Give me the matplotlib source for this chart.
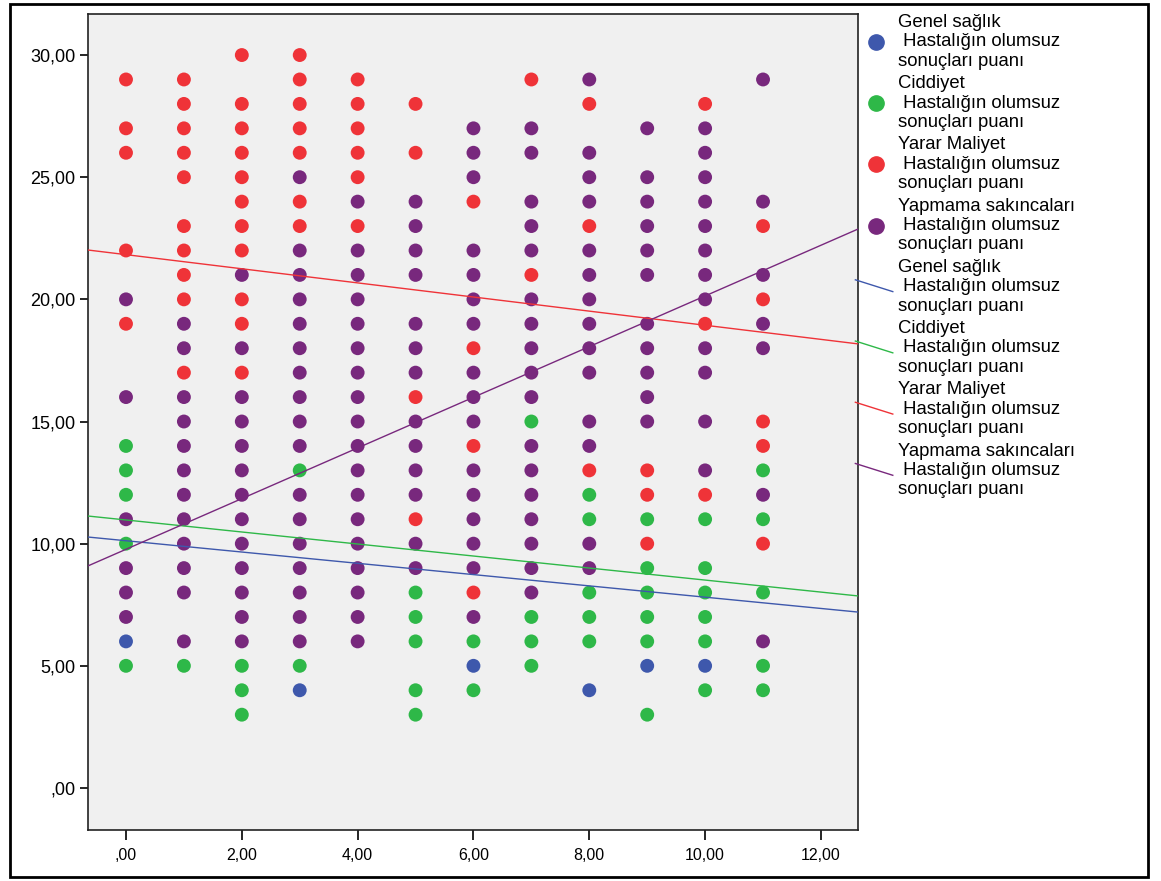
import numpy as np
import matplotlib
matplotlib.use("Agg")
import matplotlib.pyplot as plt
from matplotlib.lines import Line2D
from matplotlib.legend_handler import HandlerBase
from matplotlib.patches import Rectangle
from matplotlib.ticker import FuncFormatter

plt.rcParams['font.family'] = ['Liberation Sans', 'DejaVu Sans']

# visible points, by column (x) -> y values
genel_x = [0, 3, 6, 8, 9, 10]
genel_y = [6, 4, 5, 4, 5, 5]

ciddiyet_pts = {
    0: [14, 13, 12, 10, 5],
    1: [5],
    2: [5, 4, 3],
    3: [13, 5],
    5: [8, 7, 6, 4, 3],
    6: [6, 4],
    7: [15, 7, 6, 5],
    8: [12, 11, 8, 7, 6],
    9: [11, 9, 8, 7, 6, 3],
    10: [11, 9, 8, 7, 6, 4],
    11: [13, 11, 8, 5, 4],
}

yarar_pts = {
    0: [29, 27, 26, 22, 19],
    1: [29, 28, 27, 26, 25, 23, 22, 21, 20, 17],
    2: [30, 28, 27, 26, 25, 24, 23, 22, 20, 19, 17],
    3: [30, 29, 28, 27, 26, 24, 23],
    4: [29, 28, 27, 26, 25, 23],
    5: [28, 26, 16, 11],
    6: [24, 18, 14, 8],
    7: [29, 21],
    8: [28, 23, 13],
    9: [13, 12, 10],
    10: [28, 19, 12],
    11: [23, 20, 15, 14, 10],
}

yapmama_pts = {
    0: [20, 16, 11, 9, 8, 7],
    1: [19, 18, 16, 15, 14, 13, 12, 11, 10, 9, 8, 6],
    2: [21, 18, 16, 15, 14, 13, 12, 11, 10, 9, 8, 7, 6],
    3: [25, 22, 21, 20, 19, 18, 17, 16, 15, 14, 12, 11, 10, 9, 8, 7, 6],
    4: [24, 22, 21, 20, 19, 18, 17, 16, 15, 14, 13, 12, 11, 10, 9, 8, 7, 6],
    5: [24, 23, 22, 21, 19, 18, 17, 15, 14, 13, 12, 10, 9],
    6: [27, 26, 25, 22, 21, 20, 19, 17, 16, 15, 13, 12, 11, 10, 9, 7],
    7: [27, 26, 24, 23, 22, 20, 19, 18, 17, 16, 14, 13, 12, 11, 10, 9, 8],
    8: [29, 26, 25, 24, 22, 21, 20, 19, 18, 17, 15, 14, 10, 9],
    9: [27, 25, 24, 23, 22, 21, 19, 18, 17, 16, 15],
    10: [27, 26, 25, 24, 23, 22, 21, 20, 18, 17, 15, 13],
    11: [29, 24, 21, 19, 18, 12, 6],
}

# fit lines: intercept, slope
fit_intercepts = [10.12, 10.97, 21.83, 9.77]
fit_slopes = [-0.231, -0.246, -0.289, 1.037]

labels = ["Genel sağlık\n Hastalığın olumsuz\nsonuçları puanı",
          "Ciddiyet\n Hastalığın olumsuz\nsonuçları puanı",
          "Yarar Maliyet\n Hastalığın olumsuz\nsonuçları puanı",
          "Yapmama sakıncaları\n Hastalığın olumsuz\nsonuçları puanı"]
colors = ["#3e58ac", "#2eb848", "#ef3338", "#78287d"]


def flatten(d):
    xs, ys = [], []
    for k, v in d.items():
        xs += [k] * len(v)
        ys += v
    return xs, ys


series = [(genel_x, genel_y), flatten(ciddiyet_pts), flatten(yarar_pts), flatten(yapmama_pts)]

fig = plt.figure(figsize=(11.61, 8.81), dpi=100)
ax = fig.add_axes([88 / 1161, 1 - 830 / 881, 770 / 1161, 816 / 881])
ax.set_facecolor("#f0f0f0")

for (xs, ys), c in zip(series, colors):
    ax.scatter(xs, ys, s=100, color=c, edgecolors="none", zorder=2)

for b, m, c in zip(fit_intercepts, fit_slopes, colors):
    ax.axline((0, b), slope=m, color=c, lw=1, zorder=3)

ax.set_xlim(-0.656, 12.64)
ax.set_ylim(-1.72, 31.68)
ax.set_xticks(np.arange(0, 13, 2))
ax.set_yticks(np.arange(0, 31, 5))


def fmt(v, pos):
    s = f"{v:.2f}".replace(".", ",")
    return s[1:] if s.startswith("0") else s


ax.xaxis.set_major_formatter(FuncFormatter(fmt))
ax.yaxis.set_major_formatter(FuncFormatter(fmt))
ax.tick_params(axis="y", length=6, width=1.2, pad=3, labelsize=13)
ax.tick_params(axis="x", length=7, width=1.2, pad=6, labelsize=11.5)
for sp in ax.spines.values():
    sp.set_linewidth(1.2)
    sp.set_color("#222222")


class SpssHandler(HandlerBase):
    def __init__(self, slant, dy=0):
        super().__init__()
        self.slant = slant
        self.dy = dy

    def create_artists(self, legend, orig_handle, xdescent, ydescent,
                       width, height, fontsize, trans):
        cy = height / 2 - ydescent + self.dy
        c = orig_handle.get_color()
        if self.slant:
            ln = Line2D([-xdescent - 3, width - xdescent], [cy + 5, cy - 3.5], color=c, lw=1)
        else:
            ln = Line2D([width / 2 - xdescent], [cy], marker="o", ms=11, color=c, ls="none")
        ln.set_transform(trans)
        return [ln]


handles, hmap = [], {}
for c in colors:
    h = Line2D([], [], color=c, marker="o")
    handles.append(h)
    hmap[h] = SpssHandler(False)
for c in colors:
    h = Line2D([], [], color=c)
    handles.append(h)
    hmap[h] = SpssHandler(True)

leg = ax.legend(handles, labels * 2, handler_map=hmap, loc="upper left",
                bbox_to_anchor=(1.002, 1.0), borderaxespad=0, borderpad=0.0,
                frameon=False, fontsize=13.3, handlelength=1.8, handletextpad=0.3,
                labelspacing=0.3)
for t in leg.get_texts():
    t.set_linespacing(1.18)

fig.add_artist(Rectangle((10 / 1161, 1 - 877 / 881), 1138 / 1161, 873 / 881,
                         transform=fig.transFigure, fill=False, lw=2, ec="black"))

fig.savefig("out.png", dpi=100)
